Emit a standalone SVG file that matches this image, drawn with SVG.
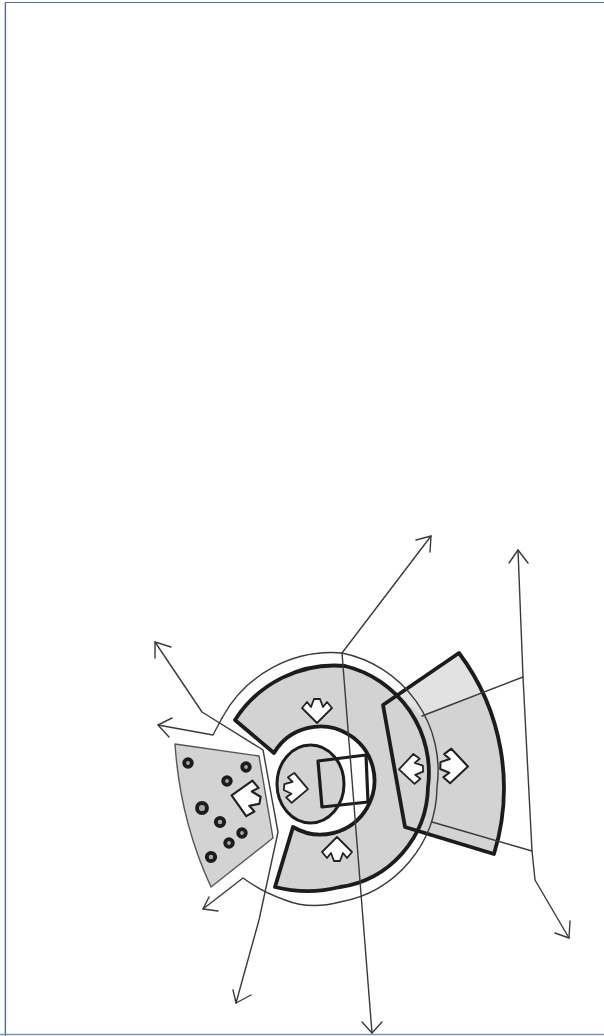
<svg xmlns="http://www.w3.org/2000/svg" width="604" height="1036" viewBox="0 0 604 1036">
<style>
.thin{fill:none;stroke:#3a3a3a;stroke-width:1.4;stroke-linejoin:round;stroke-linecap:round}
.thick{fill:none;stroke:#1c1c1c;stroke-width:3.8;stroke-linejoin:round}
.gray{fill:#d3d3d3}
.dot{fill:#a8a8a8;stroke:#1a1a1a;stroke-width:3.8}
.wa{fill:#fff;stroke:#222;stroke-width:1.8;stroke-linejoin:round}
</style>
<defs>
<filter id="soft" x="-5%" y="-5%" width="110%" height="110%"><feGaussianBlur stdDeviation="0.45"/></filter>
<path id="wh" d="M0-13 15 2 10 8 6 3 3 11-3 11-6 3-10 8-15 2Z"/>
<path id="main" d="M235 720A118 118 0 0 1 345 666A110 110 0 0 1 428 787A103 103 0 0 1 340 887A130 130 0 0 1 275 887L293 827A54 54 0 1 0 274 753Z"/>
<path id="right" d="M459 653A225 225 0 0 1 494 854L405 827 383 705Z"/>
</defs>
<rect width="604" height="1036" fill="#fff"/>
<g id="frame" fill="none">
<path d="M4.500 1036V3" stroke="#d8d8d8" stroke-width="1"/>
<path d="M5.500 1036V2.500H604" stroke="#4a6f9e" stroke-width="1.200"/>
<path d="M0 1034.500H604" stroke="#7f95b3" stroke-width="1.500"/>
</g>
<g id="drawing" filter="url(#soft)">
<g id="sector-right-fill">
<use href="#right" class="gray"/>
<path fill="#e2e2e2" d="M459 654 398 695 422 716 482 693Z"/>
</g>
<g id="sector-main">
<use href="#main" class="gray"/>
<use href="#main" class="thick"/>
</g>
<g id="sector-right">
<use href="#right" class="thick"/>
</g>
<g id="core">
<ellipse cx="310.500" cy="784" rx="33.500" ry="39" fill="#d3d3d3"/>
<path fill="#fff" d="M340 759 366 755 368 802 342 806Q346 785 340 759Z"/>
<ellipse cx="310.500" cy="784" rx="33.500" ry="39" fill="none" stroke="#1e1e1e" stroke-width="3"/>
<path fill="none" stroke="#1e1e1e" stroke-width="3.200" stroke-linejoin="round" d="M318 761 366 755 368 802 322 807Z"/>
</g>
<g id="sector-left">
<path class="gray" stroke="#555" stroke-width="1.400" stroke-linejoin="round" d="M175 744 259 756 273 838 211 887Q180 820 175 744Z"/>
<circle class="dot" cx="188" cy="763" r="3.800"/>
<circle class="dot" cx="246" cy="767" r="3.800"/>
<circle class="dot" cx="227" cy="781" r="3.800"/>
<circle class="dot" cx="202" cy="808" r="5"/>
<circle class="dot" cx="220" cy="822" r="4.200"/>
<circle class="dot" cx="242" cy="833" r="3.800"/>
<circle class="dot" cx="229" cy="843" r="3.800"/>
<circle class="dot" cx="211" cy="857" r="4.200"/>
</g>
<g id="arrows-white">
<use href="#wh" class="wa" transform="translate(317 710) rotate(180)"/>
<use href="#wh" class="wa" transform="translate(337 850)"/>
<use href="#wh" class="wa" transform="translate(295 788) rotate(95)"/>
<use href="#wh" class="wa" transform="translate(247 798) rotate(-80) scale(1.200)"/>
<use href="#wh" class="wa" transform="translate(453 766) rotate(92) scale(1.150)"/>
<use href="#wh" class="wa" transform="translate(412 769) rotate(-92)"/>
</g>
<g id="connectors">
<path class="thin" d="M431 536 342 653A120 120 0 0 1 437 787A118 118 0 0 1 340 902Q310 910 285 900Q262 892 243 878L203 909"/>
<path class="thin" d="M222 718A125 125 0 0 1 342 653"/>
<path class="thin" d="M158 725 213 735 222 718"/>
<path class="thin" d="M155 642 202 712 263 750 278 832 259 920 236 1003"/>
<path class="thin" d="M342 653 372 1033"/>
<path class="thin" d="M518 550 523 677 532 851 535 880 569 938"/>
<path class="thin" d="M523 677 422 716M532 851 432 822"/>
<path class="thin" d="M431 536 416 540M431 536 430 552"/>
<path class="thin" d="M155 642 155 658M155 642 171 647"/>
<path class="thin" d="M158 725 172 718M158 725 169 737"/>
<path class="thin" d="M203 909 218 911M203 909 209 897"/>
<path class="thin" d="M236 1003 233 990M236 1003 251 995"/>
<path class="thin" d="M372 1033 362 1022M372 1033 382 1022"/>
<path class="thin" d="M518 550 509 563M518 550 528 563"/>
<path class="thin" d="M569 938 555 933M569 938 570 921"/>
</g>
</g>
</svg>
